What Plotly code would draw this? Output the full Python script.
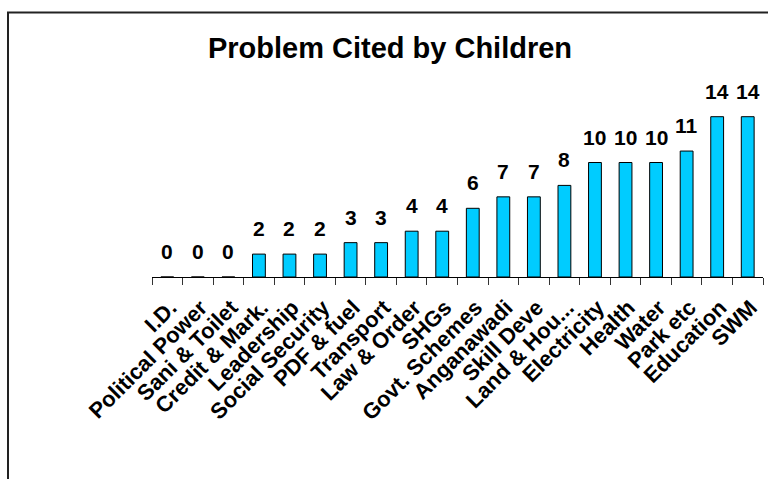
import plotly.graph_objects as go

categories = ["I.D.", "Political Power", "Sani & Toilet", "Credit & Mark.", "Leadership",
              "Social Security", "PDF & fuel", "Transport", "Law & Order", "SHGs",
              "Govt. Schemes", "Anganawadi", "Skill Deve", "Land & Hou...", "Electricity",
              "Health", "Water", "Park etc", "Education", "SWM"]
values = [0, 0, 0, 2, 2, 2, 3, 3, 4, 4, 6, 7, 7, 8, 10, 10, 10, 11, 14, 14]
title_text = "Problem Cited by Children"

W, H = 768, 479
ML, MR, MT, MB = 152, 5, 50, 202
PW = W - ML - MR
PH = H - MT - MB
FONT = "Arial, Liberation Sans, sans-serif"

fig = go.Figure()
fig.add_trace(go.Bar(
    x=categories, y=values,
    marker=dict(color="#00CCFF", line=dict(color="#000000", width=1)),
    width=0.42,
    showlegend=False,
    hoverinfo="x+y",
))

for c, v in zip(categories, values):
    fig.add_annotation(x=c, y=v, text="<b>%d</b>" % v, showarrow=False,
                       yanchor="bottom", yshift=12,
                       font=dict(family=FONT, size=21, color="#000000"))

def px_to_paper_x(px):
    return (px - ML) / PW

def py_to_paper_y(py):
    return (H - MB - py) / PH

fig.add_shape(type="rect", xref="paper", yref="paper",
              x0=px_to_paper_x(8), x1=px_to_paper_x(772),
              y0=py_to_paper_y(485), y1=py_to_paper_y(12.5),
              line=dict(color="#222222", width=2), fillcolor="rgba(0,0,0,0)",
              layer="below")

fig.update_layout(
    width=W, height=H,
    margin=dict(l=ML, r=MR, t=MT, b=MB, autoexpand=False),
    paper_bgcolor="white", plot_bgcolor="white",
    title=dict(text="<b>%s</b>" % title_text, x=390 / W, xanchor="center",
               xref="container", yref="container", y=1 - 48 / H, yanchor="middle",
               font=dict(family=FONT, size=29, color="#000000")),
    xaxis=dict(type="category", showline=True, linecolor="#000000", linewidth=1,
               ticks="outside", tickson="boundaries", ticklen=7, tickcolor="#333333",
               tickangle=-45, showgrid=False,
               ticklabelstandoff=8, ticklabelshift=3,
               tickfont=dict(family=FONT, size=22, color="#000000"),
               range=[-0.5, len(categories) - 0.5]),
    yaxis=dict(visible=False, range=[0, PH / 11.45], showgrid=False, zeroline=False),
    font=dict(family=FONT),
)

fig.update_xaxes(ticktext=["<b>%s</b>" % c for c in categories], tickvals=categories)

fig.write_html("out.html")
